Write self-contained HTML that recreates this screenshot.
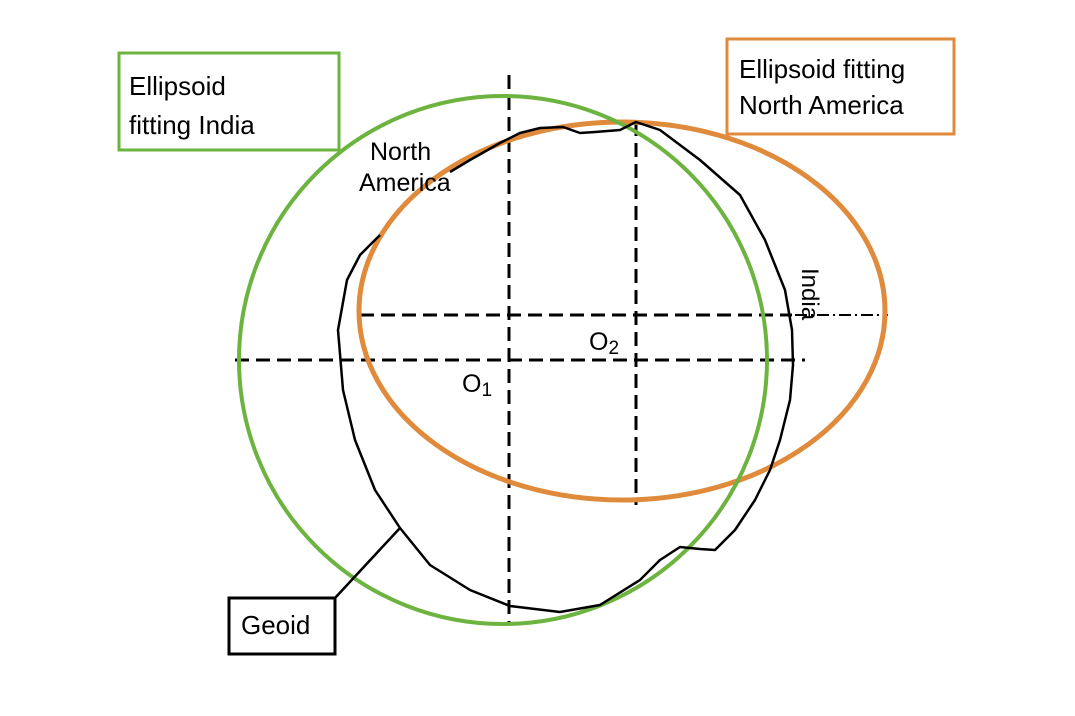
<!DOCTYPE html>
<html><head><style>body{margin:0;background:#fff}svg{display:block}</style></head><body>
<svg width="1075" height="716" xmlns="http://www.w3.org/2000/svg" font-family="Liberation Sans, sans-serif">
<rect width="1075" height="716" fill="#fff"/>
<g stroke="#000" stroke-width="3" stroke-dasharray="14,7" fill="none">
<line x1="509" y1="75" x2="509" y2="622"/>
<line x1="235" y1="360" x2="805" y2="360"/>
<line x1="636" y1="122" x2="636" y2="505"/>
<line x1="360" y1="315" x2="792" y2="315"/>
</g>
<line x1="795" y1="315" x2="888" y2="315" stroke="#000" stroke-width="2" stroke-dasharray="12,4,2,4"/>
<ellipse cx="622" cy="311" rx="263" ry="189" fill="none" stroke="#e08a3c" stroke-width="5"/>
<line x1="420" y1="203" x2="446" y2="180" stroke="#fff" stroke-width="9"/>
<circle cx="503" cy="360" r="264" fill="none" stroke="#6cb33f" stroke-width="4"/>
<path d="M450,172 L470,160 L500,143 L520,133 L540,128 L563,127 L580,133 L595,132 L620,130 L636,122 L660,130 L700,160 L740,195 L765,240 L785,290 L792,330 L793,365 L790,400 L780,440 L770,470 L755,500 L735,530 L715,550 L700,549 L680,547 L660,560 L640,580 L600,605 L560,612 L510,606 L470,590 L430,565 L400,528 L375,490 L355,440 L343,390 L338,330 L347,280 L360,255 L380,235" fill="none" stroke="#000" stroke-width="2.5" stroke-linejoin="round"/>
<line x1="335" y1="598" x2="400" y2="528" stroke="#000" stroke-width="2.5"/>
<rect x="119" y="53" width="220" height="97" fill="#fff" stroke="#6cb33f" stroke-width="3"/>
<text x="129" y="95" font-size="26">Ellipsoid</text>
<text x="129" y="134" font-size="26">fitting India</text>
<rect x="727" y="39" width="227" height="95" fill="#fff" stroke="#e08a3c" stroke-width="3"/>
<text x="739" y="78" font-size="26">Ellipsoid fitting</text>
<text x="739" y="114" font-size="26">North America</text>
<rect x="229" y="598" width="106" height="56" fill="#fff" stroke="#000" stroke-width="3"/>
<text x="241" y="634" font-size="26">Geoid</text>
<text x="370" y="160" font-size="25">North</text>
<text x="359" y="191" font-size="25">America</text>
<text x="589" y="350" font-size="25">O<tspan font-size="19" dy="4">2</tspan></text>
<text x="462" y="392" font-size="25">O<tspan font-size="19" dy="4">1</tspan></text>
<text transform="translate(802,268) rotate(90)" font-size="24">India</text>
</svg>
</body></html>
